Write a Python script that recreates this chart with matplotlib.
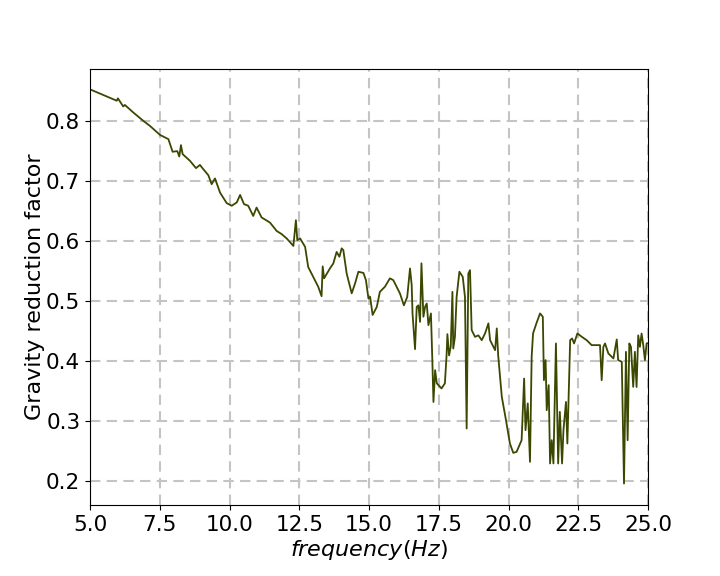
import numpy as np
import matplotlib.pyplot as plt

# values
freq = [5.00, 5.50, 5.96, 6.00, 6.19, 6.25, 6.55, 6.91, 7.15, 7.51, 7.81, 7.96,
        8.13, 8.20, 8.26, 8.32, 8.58, 8.80, 8.94, 9.06, 9.24, 9.36, 9.48, 9.66,
        9.90, 10.08, 10.26, 10.38, 10.52, 10.67, 10.85, 10.97, 11.15, 11.45,
        11.69, 11.87, 12.05, 12.29, 12.38, 12.43, 12.53, 12.71, 12.82, 13.00,
        13.18, 13.30, 13.34, 13.39, 13.60, 13.72, 13.84, 13.94, 14.02, 14.08,
        14.20, 14.38, 14.50, 14.62, 14.80, 14.89, 14.98, 15.04, 15.13, 15.28,
        15.39, 15.57, 15.75, 15.87, 15.99, 16.11, 16.25, 16.37, 16.47, 16.53,
        16.56, 16.65, 16.71, 16.77, 16.83, 16.88, 16.95, 17.01, 17.07, 17.13,
        17.22, 17.27, 17.31, 17.37, 17.43, 17.60, 17.72, 17.78, 17.81, 17.87,
        17.93, 17.99, 18.02, 18.08, 18.14, 18.24, 18.36, 18.44, 18.50, 18.56,
        18.62, 18.68, 18.80, 18.92, 19.04, 19.16, 19.28, 19.34, 19.52, 19.58,
        19.63, 19.76, 19.91, 19.99, 20.05, 20.17, 20.29, 20.47, 20.56, 20.61,
        20.69, 20.77, 20.83, 20.88, 21.00, 21.13, 21.23, 21.27, 21.33, 21.37,
        21.44, 21.49, 21.55, 21.61, 21.70, 21.78, 21.84, 21.92, 21.97, 22.06,
        22.11, 22.21, 22.28, 22.35, 22.47, 22.63, 22.80, 22.98, 23.16, 23.28,
        23.34, 23.40, 23.46, 23.58, 23.76, 23.88, 23.93, 24.06, 24.14, 24.21,
        24.27, 24.33, 24.39, 24.47, 24.53, 24.59, 24.65, 24.71, 24.77, 24.83,
        24.89, 24.95, 25.00]
grf = [0.853, 0.843, 0.834, 0.838, 0.8245, 0.827, 0.8145, 0.8005, 0.792, 0.777,
       0.770, 0.749, 0.750, 0.741, 0.760, 0.745, 0.734, 0.7217, 0.727, 0.720,
       0.710, 0.695, 0.7045, 0.681, 0.6633, 0.659, 0.6645, 0.677, 0.6617, 0.659,
       0.642, 0.656, 0.6395, 0.631, 0.617, 0.6117, 0.6045, 0.592, 0.635, 0.6017,
       0.6045, 0.5905, 0.557, 0.5405, 0.524, 0.5083, 0.558, 0.538, 0.5545,
       0.5628, 0.582, 0.574, 0.588, 0.585, 0.546, 0.513, 0.5295, 0.549, 0.547,
       0.535, 0.5045, 0.5072, 0.477, 0.4905, 0.5155, 0.524, 0.538, 0.535, 0.524,
       0.5128, 0.493, 0.507, 0.5545, 0.527, 0.4795, 0.420, 0.4905, 0.493, 0.4655,
       0.563, 0.474, 0.4905, 0.496, 0.460, 0.4795, 0.4017, 0.332, 0.385, 0.363,
       0.3545, 0.363, 0.4095, 0.445, 0.4095, 0.4245, 0.5155, 0.421, 0.4405,
       0.507, 0.549, 0.5405, 0.507, 0.2878, 0.546, 0.5517, 0.4517, 0.4405,
       0.443, 0.435, 0.4462, 0.463, 0.435, 0.4183, 0.4545, 0.4095, 0.3405,
       0.3017, 0.2795, 0.2628, 0.2472, 0.2488, 0.2683, 0.371, 0.285, 0.3295,
       0.2322, 0.4072, 0.4462, 0.463, 0.4795, 0.474, 0.3683, 0.4017, 0.3183,
       0.360, 0.2295, 0.2683, 0.2295, 0.4295, 0.2295, 0.3155, 0.2295, 0.285,
       0.332, 0.2628, 0.435, 0.4378, 0.4295, 0.4462, 0.4405, 0.435, 0.4267,
       0.4267, 0.4267, 0.3683, 0.4238, 0.4295, 0.4128, 0.4045, 0.4362, 0.4017,
       0.399, 0.196, 0.4155, 0.2683, 0.4295, 0.4238, 0.3572, 0.4155, 0.357,
       0.443, 0.4238, 0.446, 0.4267, 0.4017, 0.4295, 0.430]

fig = plt.figure(figsize=(7.2, 5.76), dpi=100)
ax = fig.add_axes([0.125, 0.123, 0.775, 0.757])

ax.plot(freq, grf, color='#3a4800', linewidth=1.3)

ax.set_xlim(5, 25)
ax.set_ylim(0.16, 0.8867)
ax.set_xticks(np.arange(5, 25.1, 2.5))
ax.set_yticks([0.2, 0.3, 0.4, 0.5, 0.6, 0.7, 0.8])
ax.grid(True, linestyle=(0, (5, 3)), color='#c4c4c4', linewidth=1.5)
ax.set_axisbelow(True)
ax.tick_params(labelsize=15.5)
ax.set_xlabel('$frequency(Hz)$', fontsize=16, labelpad=2)
ax.set_ylabel('Gravity reduction factor', fontsize=16, labelpad=1)

fig.savefig('out.png', dpi=100)
